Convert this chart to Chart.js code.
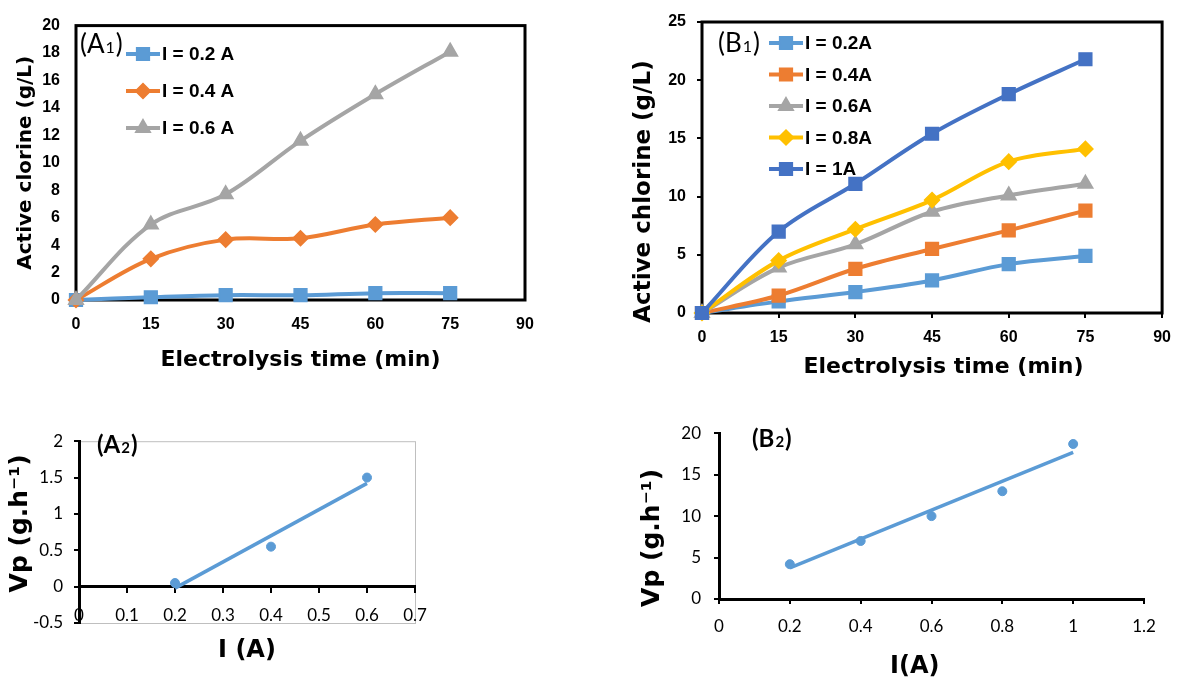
<!DOCTYPE html>
<html>
<head>
<meta charset="utf-8">
<script src="https://cdn.jsdelivr.net/npm/chart.js@4.4.0/dist/chart.umd.min.js"></script>
<style>
  html, body { margin: 0; padding: 0; background: #fff; overflow: hidden; }
  #wrap { position: relative; width: 1181px; height: 684px; }
  canvas { position: absolute; }
</style>
</head>
<body>
<div id="wrap">
  <canvas id="a1" width="590" height="400" style="left:0;top:0"></canvas>
  <canvas id="b1" width="581" height="400" style="left:600px;top:0"></canvas>
  <canvas id="a2" width="460" height="264" style="left:0;top:420px"></canvas>
  <canvas id="b2" width="581" height="274" style="left:600px;top:410px"></canvas>
</div>
<script>
// electrolysis time (min)
var timeMin = [0, 15, 30, 45, 60, 75];

// (A1) active clorine g/L
var a1Labels = ['I = 0.2 A', 'I = 0.4 A', 'I = 0.6 A'];
var a1I02 = [0, 0.2, 0.35, 0.35, 0.5, 0.5];
var a1I04 = [0, 3.0, 4.4, 4.5, 5.5, 6.0];
var a1I06 = [0, 5.5, 7.7, 11.6, 15.0, 18.1];

// (B1) active chlorine g/L
var b1Labels = ['I = 0.2A', 'I = 0.4A', 'I = 0.6A', 'I = 0.8A', 'I = 1A'];
var b1I02 = [0, 1.0, 1.8, 2.8, 4.2, 4.9];
var b1I04 = [0, 1.5, 3.8, 5.5, 7.1, 8.8];
var b1I06 = [0, 3.9, 5.9, 8.7, 10.1, 11.1];
var b1I08 = [0, 4.5, 7.2, 9.7, 13.0, 14.1];
var b1I10 = [0, 7.0, 11.1, 15.4, 18.8, 21.8];

// (A2) Vp vs I
var a2Current = [0.2, 0.4, 0.6];
var a2Vp = [0.05, 0.55, 1.5];
var a2TrendI = [0.2, 0.6];
var a2TrendVp = [-0.02, 1.42];

// (B2) Vp vs I
var b2Current = [0.2, 0.4, 0.6, 0.8, 1.0];
var b2Vp = [4.2, 7.0, 10.0, 13.0, 18.7];
var b2TrendI = [0.2, 1.0];
var b2TrendVp = [3.75, 17.7];

var blue = '#5B9BD5', orange = '#ED7D31', grey = '#A5A5A5', yellow = '#FFC000', navy = '#4472C4';
var NB = '\u00a0';

Chart.defaults.color = '#000';
Chart.defaults.font.family = 'Liberation Sans';

function pts(xs, ys) {
  return xs.map(function (x, i) { return { x: x, y: ys[i] }; });
}

// excel style labels: 2 not 2.0
function plain(v) { return String(+v.toFixed(2)); }

function curve(label, ys, color, shape, r, order) {
  return {
    label: label,
    data: pts(timeMin, ys),
    borderColor: color,
    backgroundColor: color,
    borderWidth: 4,
    pointStyle: shape,
    pointRadius: r,
    pointBorderWidth: 1.5,
    tension: 0.35,
    clip: false,
    order: order
  };
}

// thick black frame round the plot area
var boxPlugin = {
  id: 'box',
  beforeDatasetsDraw: function (chart) {
    var a = chart.chartArea, ctx = chart.ctx;
    ctx.save();
    ctx.strokeStyle = '#000';
    ctx.lineWidth = 3;
    ctx.strokeRect(a.left, a.top, a.right - a.left, a.bottom - a.top);
    ctx.restore();
  }
};

// thin grey frame (A2)
var greyBox = {
  id: 'greyBox',
  beforeDraw: function (chart) {
    var a = chart.chartArea, ctx = chart.ctx;
    ctx.save();
    ctx.strokeStyle = '#BFBFBF';
    ctx.lineWidth = 1;
    ctx.strokeRect(a.left + 0.5, a.top + 0.5, a.right - a.left, a.bottom - a.top);
    ctx.restore();
  }
};

function legendIn(x, y0, dy) {
  return {
    id: 'legendIn',
    afterDraw: function (chart) {
      var ctx = chart.ctx;
      chart.data.datasets.forEach(function (ds, i) {
        var y = y0 + i * dy;
        ctx.save();
        ctx.strokeStyle = ds.borderColor;
        ctx.lineWidth = 4;
        ctx.beginPath();
        ctx.moveTo(x, y);
        ctx.lineTo(x + 34, y);
        ctx.stroke();
        ctx.fillStyle = ds.borderColor;
        ctx.lineWidth = 1.5;
        Chart.helpers.drawPoint(ctx, { pointStyle: ds.pointStyle, radius: ds.pointRadius, rotation: 0, borderWidth: 1.5 }, x + 17, y);
        ctx.fillStyle = '#000';
        ctx.font = 'bold 19px "Liberation Sans"';
        ctx.textBaseline = 'middle';
        ctx.fillText(ds.label, x + 36, y + 1);
        ctx.restore();
      });
    }
  };
}

function tag(main, sub, x, y, size, weight) {
  return {
    id: 'tag',
    afterDraw: function (chart) {
      var ctx = chart.ctx;
      ctx.save();
      ctx.fillStyle = '#000';
      ctx.textBaseline = 'alphabetic';
      ctx.font = weight + ' ' + size + 'px Lato';
      ctx.fillText('(' + main, x, y);
      var w = ctx.measureText('(' + main).width;
      ctx.font = weight + ' ' + Math.round(size * 0.62) + 'px Lato';
      ctx.fillText(sub, x + w + 1, y);
      var w2 = ctx.measureText(sub).width;
      ctx.font = weight + ' ' + size + 'px Lato';
      ctx.fillText(')', x + w + w2 + 2, y);
      ctx.restore();
    }
  };
}

var boldTick = { family: 'Liberation Sans', weight: 'bold', size: 16 };
var lightTick = { family: 'Lato', size: 17 };
var tickMarks = { display: true, drawOnChartArea: false, drawTicks: true, tickLength: 5, color: '#000', lineWidth: 2 };
var noGrid = { display: false, drawTicks: false };

// ---------- A1 ----------
new Chart(document.getElementById('a1'), {
  type: 'line',
  data: {
    datasets: [
      curve(a1Labels[0], a1I02, blue, 'rect', 9, 3),
      curve(a1Labels[1], a1I04, orange, 'rectRot', 7.5, 2),
      curve(a1Labels[2], a1I06, grey, 'triangle', 8.5, 1)
    ]
  },
  options: {
    responsive: false,
    animation: false,
    layout: { padding: { left: 0, top: 21, right: 65, bottom: 0 } },
    plugins: { legend: { display: false }, tooltip: { enabled: false } },
    scales: {
      x: {
        type: 'linear', min: 0, max: 90,
        grid: noGrid, border: { display: false },
        ticks: { stepSize: 15, autoSkip: false, maxRotation: 0, padding: 15, font: boldTick },
        title: { display: true, text: 'Electrolysis time (min)', font: { family: 'DejaVu Sans', weight: 'bold', size: 22 }, padding: { top: 0, bottom: 26.8 } },
        afterFit: function (s) { s.height = 100; }
      },
      y: {
        min: 0, max: 20,
        grid: noGrid, border: { display: false },
        ticks: { stepSize: 2, autoSkip: false, padding: 16, font: boldTick },
        title: { display: true, text: 'Active clorine (g/L)', font: { family: 'DejaVu Sans', weight: 'bold', size: 20 }, padding: { top: 14, bottom: 0 } },
        afterFit: function (s) { s.width = 76; }
      }
    }
  },
  plugins: [boxPlugin, legendIn(126, 54, 37), tag('A', '1', 80, 53, 26, 'normal')]
});

// ---------- B1 ----------
new Chart(document.getElementById('b1'), {
  type: 'line',
  data: {
    datasets: [
      curve(b1Labels[0], b1I02, blue, 'rect', 9, 5),
      curve(b1Labels[1], b1I04, orange, 'rect', 9, 4),
      curve(b1Labels[2], b1I06, grey, 'triangle', 8.5, 3),
      curve(b1Labels[3], b1I08, yellow, 'rectRot', 7.5, 2),
      curve(b1Labels[4], b1I10, navy, 'rect', 9, 1)
    ]
  },
  options: {
    responsive: false,
    animation: false,
    layout: { padding: { left: 0, top: 22, right: 11, bottom: 0 } },
    plugins: { legend: { display: false }, tooltip: { enabled: false } },
    scales: {
      x: {
        type: 'linear', min: 0, max: 90,
        grid: tickMarks, border: { display: false },
        ticks: { stepSize: 15, autoSkip: false, maxRotation: 0, padding: 10, font: boldTick },
        title: { display: true, text: NB + NB + NB + 'Electrolysis time (min)', font: { family: 'DejaVu Sans', weight: 'bold', size: 22 }, padding: { top: 0, bottom: 19.8 } },
        afterFit: function (s) { s.height = 87; }
      },
      y: {
        min: 0, max: 25,
        grid: tickMarks, border: { display: false },
        ticks: { stepSize: 5, autoSkip: false, padding: 11, font: boldTick },
        title: { display: true, text: 'Active chlorine (g/L)' + NB + NB + NB + NB + NB + NB, font: { family: 'DejaVu Sans', weight: 'bold', size: 23 }, padding: { top: 30.2, bottom: 0 } },
        afterFit: function (s) { s.width = 102; }
      }
    }
  },
  plugins: [boxPlugin, legendIn(169, 43, 31.5), tag('B', '1', 118, 52, 26, 'normal')]
});

// ---------- A2 ----------
new Chart(document.getElementById('a2'), {
  type: 'scatter',
  data: {
    datasets: [
      { label: 'Vp', data: pts(a2Current, a2Vp), backgroundColor: blue, borderColor: blue, pointRadius: 4.5, clip: false },
      { label: 'trend', data: pts(a2TrendI, a2TrendVp), showLine: true, borderColor: blue, borderWidth: 3.5, pointRadius: 0, clip: false }
    ]
  },
  options: {
    responsive: false,
    animation: false,
    layout: { padding: { left: 0, top: 15, right: 45, bottom: 61 } },
    plugins: { legend: { display: false }, tooltip: { enabled: false } },
    scales: {
      x: {
        type: 'linear', min: 0, max: 0.7, position: { y: 0 },
        grid: tickMarks, border: { display: true, color: '#000', width: 3 },
        ticks: { stepSize: 0.1, autoSkip: false, maxRotation: 0, padding: 13.8, font: lightTick, callback: plain },
        title: { display: true, text: 'I (A)', font: { family: 'DejaVu Sans', weight: 'bold', size: 24 }, padding: { top: 0, bottom: -17.4 } },
        afterFit: function (s) { s.height = 61; }
      },
      y: {
        min: -0.5, max: 2,
        grid: tickMarks, border: { display: true, color: '#000', width: 3 },
        ticks: { stepSize: 0.5, autoSkip: false, padding: 11, font: lightTick, callback: plain },
        title: { display: true, text: NB + NB + 'Vp (g.h\u207B\u00B9)', font: { family: 'DejaVu Sans', weight: 'bold', size: 25 }, padding: { top: 5, bottom: 0 } },
        afterFit: function (s) { s.width = 79; }
      }
    }
  },
  plugins: [greyBox, tag('A', '2', 97, 33, 24, 'bold')]
});

// ---------- B2 ----------
new Chart(document.getElementById('b2'), {
  type: 'scatter',
  data: {
    datasets: [
      { label: 'Vp', data: pts(b2Current, b2Vp), backgroundColor: blue, borderColor: blue, pointRadius: 4.5, clip: false },
      { label: 'trend', data: pts(b2TrendI, b2TrendVp), showLine: true, borderColor: blue, borderWidth: 3.5, pointRadius: 0, clip: false }
    ]
  },
  options: {
    responsive: false,
    animation: false,
    layout: { padding: { left: 0, top: 18, right: 37, bottom: 0 } },
    plugins: { legend: { display: false }, tooltip: { enabled: false } },
    scales: {
      x: {
        type: 'linear', min: 0, max: 1.2,
        grid: tickMarks, border: { display: true, color: '#000', width: 3 },
        ticks: { stepSize: 0.2, autoSkip: false, maxRotation: 0, padding: 12.8, font: lightTick, callback: plain },
        title: { display: true, text: 'I(A)' + NB + NB + NB + NB, font: { family: 'DejaVu Sans', weight: 'bold', size: 24 }, padding: { top: 0, bottom: 2.6 } },
        afterFit: function (s) { s.height = 85; }
      },
      y: {
        min: 0, max: 20,
        grid: tickMarks, border: { display: true, color: '#000', width: 3 },
        ticks: { stepSize: 5, autoSkip: false, padding: 13, font: lightTick, callback: plain },
        title: { display: true, text: 'Vp (g.h\u207B\u00B9)' + NB + NB + NB + NB + NB, font: { family: 'DejaVu Sans', weight: 'bold', size: 25 }, padding: { top: 37, bottom: 0 } },
        afterFit: function (s) { s.width = 119; }
      }
    }
  },
  plugins: [tag('B', '2', 152, 37, 24, 'bold')]
});
</script>
</body>
</html>
